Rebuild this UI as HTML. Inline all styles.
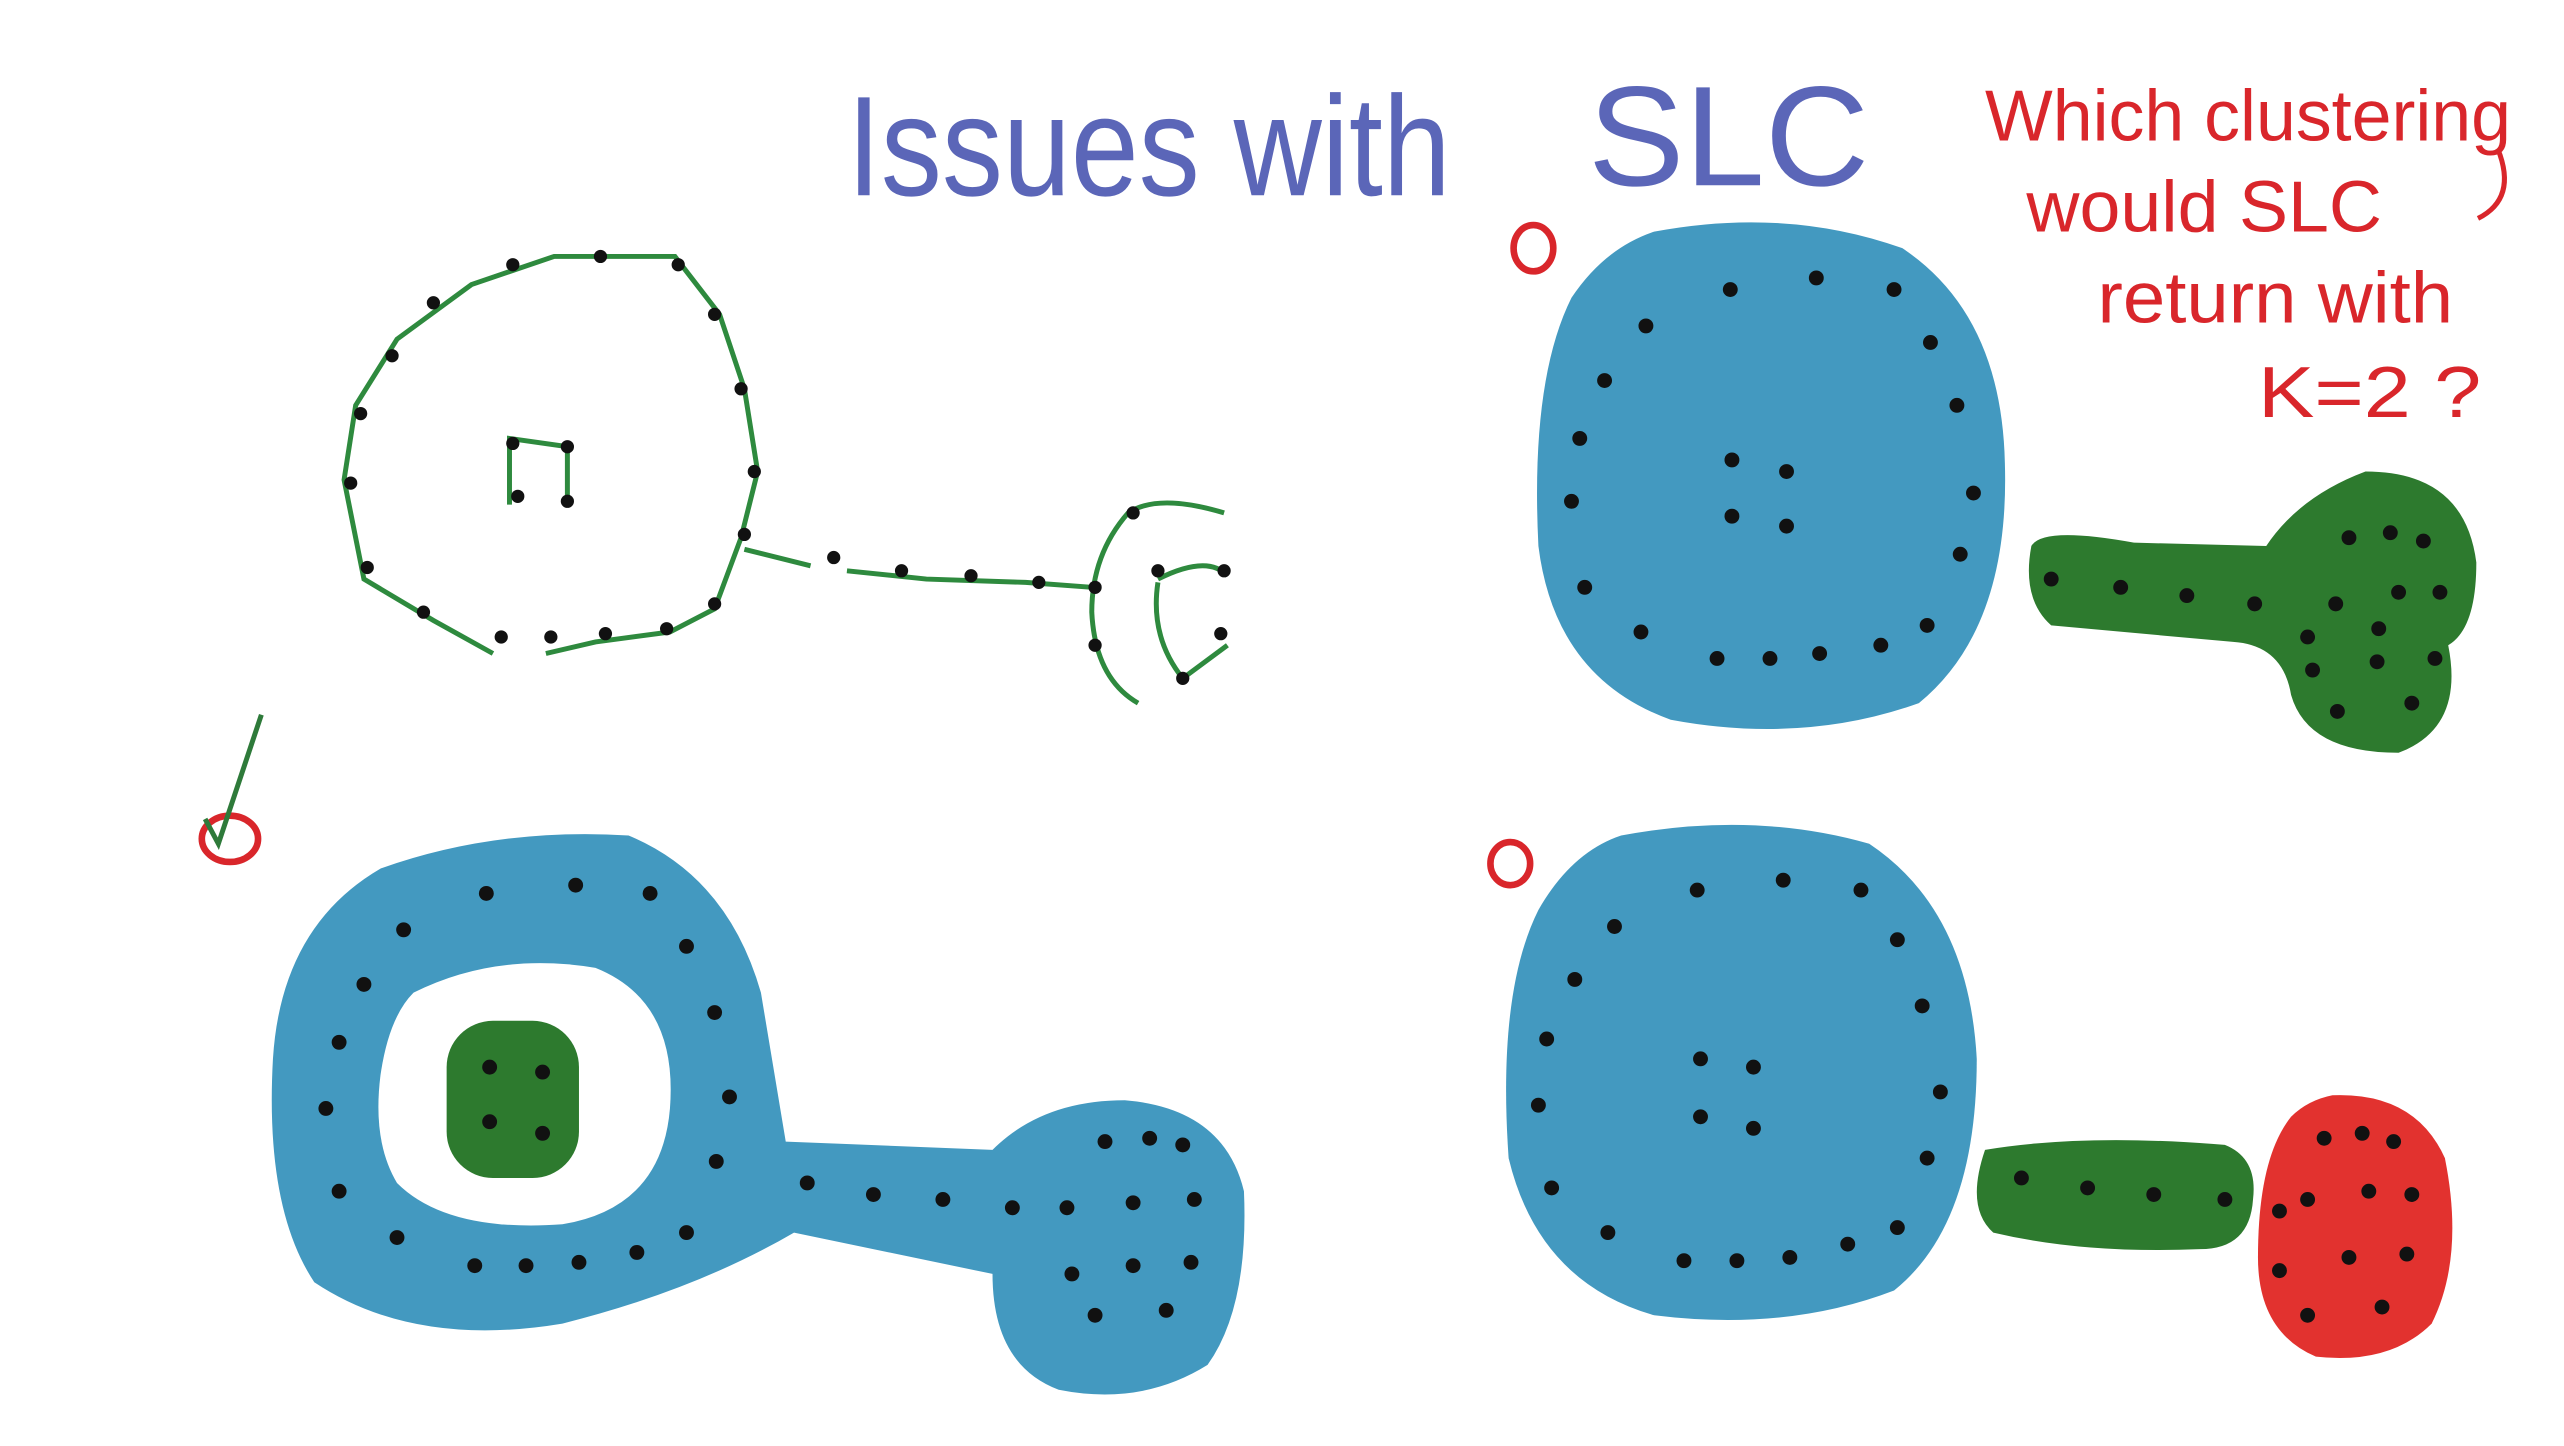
<!DOCTYPE html>
<html><head><meta charset="utf-8"><style>
html,body{margin:0;padding:0;background:#fff;}
svg{display:block;}
</style></head><body>
<svg width="2564" height="1446" viewBox="0 0 1550 874" preserveAspectRatio="none" xmlns="http://www.w3.org/2000/svg">
<rect width="1550" height="874" fill="#fff"/>
<!-- title -->
<text x="512" y="118" font-family="Liberation Sans, sans-serif" font-size="86" fill="#5b66b8" font-weight="300" textLength="365" lengthAdjust="spacingAndGlyphs">Issues with</text>
<text x="960" y="112" font-family="Liberation Sans, sans-serif" font-size="86" fill="#5b66b8" textLength="170" lengthAdjust="spacingAndGlyphs">SLC</text>
<!-- red question -->
<g font-family="Liberation Sans, sans-serif" font-size="44" fill="#d9262b">
<text x="1200" y="85" textLength="318" lengthAdjust="spacingAndGlyphs">Which clustering</text>
<text x="1225" y="140" textLength="215" lengthAdjust="spacingAndGlyphs">would SLC</text>
<text x="1268" y="195" textLength="215" lengthAdjust="spacingAndGlyphs">return with</text>
<text x="1365" y="252" textLength="135" lengthAdjust="spacingAndGlyphs">K=2 ?</text>
</g>
<path d="M1510 90 Q1522 120 1498 132" stroke="#d9262b" stroke-width="3" fill="none"/>
<!-- red marks -->
<g stroke="#d9262b" stroke-width="4" fill="none">
<ellipse cx="927" cy="150" rx="12" ry="14"/>
<ellipse cx="913" cy="522" rx="12" ry="13"/>
<ellipse cx="139" cy="507" rx="17" ry="14"/>
</g>
<path d="M124 495 L132 510 L158 432" stroke="#2e7a3a" stroke-width="3" fill="none"/>
<!-- top-left outline -->
<g stroke="#2e8a3e" stroke-width="3" fill="none">
<path d="M298 395 L262 375 L220 350 L208 290 L215 245 L240 205 L285 172 L335 155 L408 155 L435 190 L450 235 L458 285 L448 325 L432 368 L405 382 L360 388 L330 395"/>
<path d="M450 332 L490 342 M512 345 L560 350 L620 352 L660 355"/>
<path d="M740 310 Q700 298 682 310 Q660 335 660 370 Q662 410 688 425 M700 350 Q730 335 742 348 M700 352 Q695 385 715 410 L742 390"/>
<path d="M308 305 L308 265 L343 270 L343 305"/>
</g>
<g fill="#111">
<circle cx="310" cy="160" r="4"/><circle cx="363" cy="155" r="4"/><circle cx="410" cy="160" r="4"/><circle cx="262" cy="183" r="4"/><circle cx="432" cy="190" r="4"/><circle cx="237" cy="215" r="4"/><circle cx="448" cy="235" r="4"/><circle cx="218" cy="250" r="4"/><circle cx="456" cy="285" r="4"/><circle cx="212" cy="292" r="4"/><circle cx="450" cy="323" r="4"/><circle cx="222" cy="343" r="4"/><circle cx="432" cy="365" r="4"/><circle cx="256" cy="370" r="4"/><circle cx="403" cy="380" r="4"/><circle cx="303" cy="385" r="4"/><circle cx="333" cy="385" r="4"/><circle cx="366" cy="383" r="4"/><circle cx="310" cy="268" r="4"/><circle cx="343" cy="270" r="4"/><circle cx="313" cy="300" r="4"/><circle cx="343" cy="303" r="4"/><circle cx="504" cy="337" r="4"/><circle cx="545" cy="345" r="4"/><circle cx="587" cy="348" r="4"/><circle cx="628" cy="352" r="4"/><circle cx="662" cy="355" r="4"/><circle cx="662" cy="390" r="4"/><circle cx="700" cy="345" r="4"/><circle cx="740" cy="345" r="4"/><circle cx="738" cy="383" r="4"/><circle cx="715" cy="410" r="4"/><circle cx="685" cy="310" r="4"/>
</g>
<!-- top-right -->
<path d="M1000 140 Q1080 125 1150 150 Q1210 190 1212 280 Q1215 380 1160 425 Q1090 450 1010 435 Q940 410 930 330 Q925 230 950 180 Q970 150 1000 140 Z" fill="#4399c0"/>
<path d="M1228 330 Q1235 318 1290 328 L1370 330 Q1390 300 1430 285 Q1490 285 1497 340 Q1497 380 1480 390 Q1490 440 1450 455 Q1395 455 1385 420 Q1380 390 1350 388 L1240 378 Q1222 362 1228 330 Z" fill="#2d7a2e"/>
<!-- bottom-left -->
<path d="M230 525 Q300 500 380 505 Q440 530 460 600 Q470 660 475 690 L600 695 Q630 665 680 665 Q740 670 752 720 Q755 790 730 825 Q690 850 640 840 Q600 825 600 770 L480 745 Q420 780 340 800 Q250 815 190 775 Q160 730 165 640 Q170 560 230 525 Z" fill="#4399c0"/>
<path d="M250 600 Q300 575 360 585 Q410 605 405 670 Q400 730 340 740 Q270 745 240 715 Q225 690 230 650 Q235 615 250 600 Z" fill="#fff"/>
<rect x="270" y="617" width="80" height="95" rx="28" fill="#2d7a2e"/>
<!-- bottom-right -->
<path d="M980 505 Q1060 490 1130 510 Q1190 550 1195 640 Q1195 740 1145 780 Q1080 805 1000 795 Q930 775 912 700 Q905 600 930 550 Q950 515 980 505 Z" fill="#4399c0"/>
<path d="M1200 695 Q1260 685 1345 692 Q1365 700 1362 725 Q1360 755 1330 755 Q1260 758 1205 745 Q1188 730 1200 695 Z" fill="#2d7a2e"/>
<path d="M1410 662 Q1460 660 1478 700 Q1490 760 1470 800 Q1445 825 1400 820 Q1365 805 1365 760 Q1365 700 1385 675 Q1395 665 1410 662 Z" fill="#e2322f"/>
<!-- dots on filled shapes -->
<g fill="#111">
<circle cx="1046" cy="175" r="4.5"/><circle cx="1098" cy="168" r="4.5"/><circle cx="1145" cy="175" r="4.5"/><circle cx="995" cy="197" r="4.5"/><circle cx="1167" cy="207" r="4.5"/><circle cx="970" cy="230" r="4.5"/><circle cx="1183" cy="245" r="4.5"/><circle cx="955" cy="265" r="4.5"/><circle cx="1193" cy="298" r="4.5"/><circle cx="950" cy="303" r="4.5"/><circle cx="1185" cy="335" r="4.5"/><circle cx="958" cy="355" r="4.5"/><circle cx="1165" cy="378" r="4.5"/><circle cx="992" cy="382" r="4.5"/><circle cx="1038" cy="398" r="4.5"/><circle cx="1070" cy="398" r="4.5"/><circle cx="1100" cy="395" r="4.5"/><circle cx="1137" cy="390" r="4.5"/><circle cx="1047" cy="278" r="4.5"/><circle cx="1080" cy="285" r="4.5"/><circle cx="1047" cy="312" r="4.5"/><circle cx="1080" cy="318" r="4.5"/>
<circle cx="1240" cy="350" r="4.5"/><circle cx="1282" cy="355" r="4.5"/><circle cx="1322" cy="360" r="4.5"/><circle cx="1363" cy="365" r="4.5"/><circle cx="1420" cy="325" r="4.5"/><circle cx="1445" cy="322" r="4.5"/><circle cx="1465" cy="327" r="4.5"/><circle cx="1412" cy="365" r="4.5"/><circle cx="1450" cy="358" r="4.5"/><circle cx="1475" cy="358" r="4.5"/><circle cx="1395" cy="385" r="4.5"/><circle cx="1438" cy="380" r="4.5"/><circle cx="1398" cy="405" r="4.5"/><circle cx="1437" cy="400" r="4.5"/><circle cx="1472" cy="398" r="4.5"/><circle cx="1413" cy="430" r="4.5"/><circle cx="1458" cy="425" r="4.5"/>
<circle cx="294" cy="540" r="4.5"/><circle cx="348" cy="535" r="4.5"/><circle cx="393" cy="540" r="4.5"/><circle cx="244" cy="562" r="4.5"/><circle cx="415" cy="572" r="4.5"/><circle cx="220" cy="595" r="4.5"/><circle cx="432" cy="612" r="4.5"/><circle cx="205" cy="630" r="4.5"/><circle cx="441" cy="663" r="4.5"/><circle cx="197" cy="670" r="4.5"/><circle cx="433" cy="702" r="4.5"/><circle cx="205" cy="720" r="4.5"/><circle cx="415" cy="745" r="4.5"/><circle cx="240" cy="748" r="4.5"/><circle cx="287" cy="765" r="4.5"/><circle cx="318" cy="765" r="4.5"/><circle cx="350" cy="763" r="4.5"/><circle cx="385" cy="757" r="4.5"/>
<circle cx="296" cy="645" r="4.5"/><circle cx="328" cy="648" r="4.5"/><circle cx="296" cy="678" r="4.5"/><circle cx="328" cy="685" r="4.5"/>
<circle cx="488" cy="715" r="4.5"/><circle cx="528" cy="722" r="4.5"/><circle cx="570" cy="725" r="4.5"/><circle cx="612" cy="730" r="4.5"/><circle cx="668" cy="690" r="4.5"/><circle cx="695" cy="688" r="4.5"/><circle cx="715" cy="692" r="4.5"/><circle cx="645" cy="730" r="4.5"/><circle cx="685" cy="727" r="4.5"/><circle cx="722" cy="725" r="4.5"/><circle cx="648" cy="770" r="4.5"/><circle cx="685" cy="765" r="4.5"/><circle cx="720" cy="763" r="4.5"/><circle cx="662" cy="795" r="4.5"/><circle cx="705" cy="792" r="4.5"/>
<circle cx="1026" cy="538" r="4.5"/><circle cx="1078" cy="532" r="4.5"/><circle cx="1125" cy="538" r="4.5"/><circle cx="976" cy="560" r="4.5"/><circle cx="1147" cy="568" r="4.5"/><circle cx="952" cy="592" r="4.5"/><circle cx="1162" cy="608" r="4.5"/><circle cx="935" cy="628" r="4.5"/><circle cx="1173" cy="660" r="4.5"/><circle cx="930" cy="668" r="4.5"/><circle cx="1165" cy="700" r="4.5"/><circle cx="938" cy="718" r="4.5"/><circle cx="1147" cy="742" r="4.5"/><circle cx="972" cy="745" r="4.5"/><circle cx="1018" cy="762" r="4.5"/><circle cx="1050" cy="762" r="4.5"/><circle cx="1082" cy="760" r="4.5"/><circle cx="1117" cy="752" r="4.5"/><circle cx="1028" cy="640" r="4.5"/><circle cx="1060" cy="645" r="4.5"/><circle cx="1028" cy="675" r="4.5"/><circle cx="1060" cy="682" r="4.5"/>
<circle cx="1222" cy="712" r="4.5"/><circle cx="1262" cy="718" r="4.5"/><circle cx="1302" cy="722" r="4.5"/><circle cx="1345" cy="725" r="4.5"/>
<circle cx="1405" cy="688" r="4.5"/><circle cx="1428" cy="685" r="4.5"/><circle cx="1447" cy="690" r="4.5"/><circle cx="1395" cy="725" r="4.5"/><circle cx="1432" cy="720" r="4.5"/><circle cx="1458" cy="722" r="4.5"/><circle cx="1378" cy="732" r="4.5"/><circle cx="1420" cy="760" r="4.5"/><circle cx="1455" cy="758" r="4.5"/><circle cx="1378" cy="768" r="4.5"/><circle cx="1395" cy="795" r="4.5"/><circle cx="1440" cy="790" r="4.5"/>
</g>
</svg>
</body></html>
